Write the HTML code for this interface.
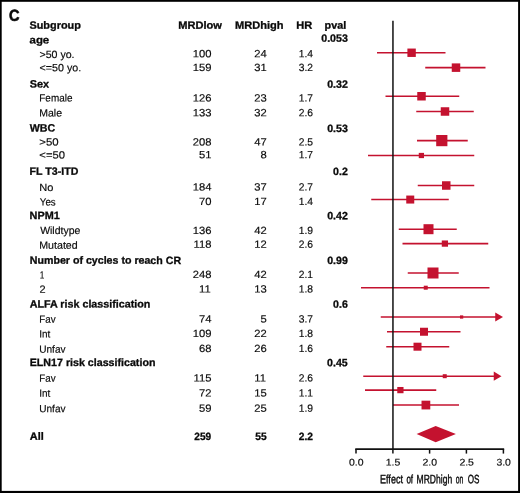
<!DOCTYPE html>
<html><head><meta charset="utf-8"><title>Forest plot</title>
<style>
html,body{margin:0;padding:0;background:#fff;}
body{width:520px;height:493px;overflow:hidden;}
svg{display:block;will-change:transform;font-family:"Liberation Sans",sans-serif;}
text{white-space:pre;}
</style></head><body>
<svg width="520" height="493" viewBox="0 0 520 493">
<rect x="0" y="0" width="520" height="493" fill="#000"/>
<rect x="1.7" y="1.8" width="516.4" height="489.1" fill="#fff"/>
<g>
<line x1="377" y1="52.75" x2="445.5" y2="52.75" stroke="#c4122f" stroke-width="1.6"/>
<rect x="407.40" y="48.55" width="8.4" height="8.4" fill="#c4122f"/>
<line x1="425.25" y1="67.65" x2="485.5" y2="67.65" stroke="#c4122f" stroke-width="1.6"/>
<rect x="451.75" y="63.40" width="8.5" height="8.5" fill="#c4122f"/>
<line x1="385.5" y1="96.25" x2="459.25" y2="96.25" stroke="#c4122f" stroke-width="1.6"/>
<rect x="417.25" y="92.00" width="8.5" height="8.5" fill="#c4122f"/>
<line x1="416.25" y1="111.50" x2="473.75" y2="111.50" stroke="#c4122f" stroke-width="1.6"/>
<rect x="440.75" y="107.25" width="8.5" height="8.5" fill="#c4122f"/>
<line x1="417" y1="140.60" x2="467.75" y2="140.60" stroke="#c4122f" stroke-width="1.6"/>
<rect x="436.20" y="135.00" width="11.2" height="11.2" fill="#c4122f"/>
<line x1="368" y1="155.50" x2="474.25" y2="155.50" stroke="#c4122f" stroke-width="1.6"/>
<rect x="418.77" y="152.88" width="5.25" height="5.25" fill="#c4122f"/>
<line x1="417.75" y1="185.50" x2="474.25" y2="185.50" stroke="#c4122f" stroke-width="1.6"/>
<rect x="442.00" y="181.25" width="8.5" height="8.5" fill="#c4122f"/>
<line x1="371.25" y1="199.55" x2="448.75" y2="199.55" stroke="#c4122f" stroke-width="1.6"/>
<rect x="406.25" y="195.55" width="8" height="8" fill="#c4122f"/>
<line x1="398.75" y1="229.20" x2="456.75" y2="229.20" stroke="#c4122f" stroke-width="1.6"/>
<rect x="423.50" y="224.20" width="10" height="10" fill="#c4122f"/>
<line x1="402.5" y1="243.60" x2="488.25" y2="243.60" stroke="#c4122f" stroke-width="1.6"/>
<rect x="441.77" y="240.47" width="6.25" height="6.25" fill="#c4122f"/>
<line x1="407.75" y1="273.00" x2="458.75" y2="273.00" stroke="#c4122f" stroke-width="1.6"/>
<rect x="427.50" y="267.50" width="11" height="11" fill="#c4122f"/>
<line x1="361" y1="287.70" x2="489.5" y2="287.70" stroke="#c4122f" stroke-width="1.6"/>
<rect x="423.75" y="285.70" width="4" height="4" fill="#c4122f"/>
<line x1="380.75" y1="317.00" x2="496.25" y2="317.00" stroke="#c4122f" stroke-width="1.6"/>
<polygon points="495.25,312.40 503,317.00 495.25,321.60" fill="#c4122f"/>
<rect x="459.98" y="315.38" width="3.25" height="3.25" fill="#c4122f"/>
<line x1="387" y1="331.75" x2="460.5" y2="331.75" stroke="#c4122f" stroke-width="1.6"/>
<rect x="420.00" y="327.75" width="8" height="8" fill="#c4122f"/>
<line x1="386.25" y1="346.70" x2="449.25" y2="346.70" stroke="#c4122f" stroke-width="1.6"/>
<rect x="413.50" y="342.70" width="8" height="8" fill="#c4122f"/>
<line x1="363.25" y1="376.20" x2="494.75" y2="376.20" stroke="#c4122f" stroke-width="1.6"/>
<polygon points="493.75,371.60 501.5,376.20 493.75,380.80" fill="#c4122f"/>
<rect x="442.75" y="374.20" width="4" height="4" fill="#c4122f"/>
<line x1="365" y1="390.10" x2="436.25" y2="390.10" stroke="#c4122f" stroke-width="1.6"/>
<rect x="397.27" y="386.98" width="6.25" height="6.25" fill="#c4122f"/>
<line x1="393" y1="405.05" x2="459" y2="405.05" stroke="#c4122f" stroke-width="1.6"/>
<rect x="421.52" y="400.68" width="8.75" height="8.75" fill="#c4122f"/>
<polygon points="416.6,434.1 435.7,426.0 455.9,434.1 435.7,442.2" fill="#c4122f"/>
<line x1="392.95" y1="20.75" x2="392.95" y2="449" stroke="#111" stroke-width="1.5"/>
<line x1="355.25" y1="449.1" x2="504.15" y2="449.1" stroke="#111" stroke-width="1.6"/>
<line x1="356" y1="449" x2="356" y2="453.6" stroke="#111" stroke-width="1.5"/>
<line x1="392.9" y1="449" x2="392.9" y2="453.6" stroke="#111" stroke-width="1.5"/>
<line x1="429.6" y1="449" x2="429.6" y2="453.6" stroke="#111" stroke-width="1.5"/>
<line x1="466.4" y1="449" x2="466.4" y2="453.6" stroke="#111" stroke-width="1.5"/>
<line x1="503.4" y1="449" x2="503.4" y2="453.6" stroke="#111" stroke-width="1.5"/>
</g>
<g>
<text transform="translate(8.92,20.85) rotate(0.06) scale(0.9122,1)" font-size="15.9" font-weight="700" fill="#0a0a0a" stroke="#0a0a0a" stroke-width="0.6">C</text>
<text transform="translate(29.42,28.75) rotate(0.06) scale(1.0296,1)" font-size="10.6" font-weight="700" fill="#0a0a0a" stroke="#0a0a0a" stroke-width="0.3">Subgroup</text>
<text transform="translate(178.28,28.75) rotate(0.06) scale(1.0455,1)" font-size="10.6" font-weight="700" fill="#0a0a0a" stroke="#0a0a0a" stroke-width="0.3">MRDlow</text>
<text transform="translate(235.03,28.75) rotate(0.06) scale(1.0464,1)" font-size="10.6" font-weight="700" fill="#0a0a0a" stroke="#0a0a0a" stroke-width="0.3">MRDhigh</text>
<text transform="translate(296.28,28.75) rotate(0.06) scale(1.0444,1)" font-size="10.6" font-weight="700" fill="#0a0a0a" stroke="#0a0a0a" stroke-width="0.3">HR</text>
<text transform="translate(324.55,28.75) rotate(0.06) scale(1.0216,1)" font-size="10.6" font-weight="700" fill="#0a0a0a" stroke="#0a0a0a" stroke-width="0.3">pval</text>
<text transform="translate(29.56,43.50) rotate(0.06) scale(1.0774,1)" font-size="10.6" font-weight="700" fill="#0a0a0a" stroke="#0a0a0a" stroke-width="0.3">age</text>
<text transform="translate(321.27,41.70) rotate(0.06) scale(1.0000,1)" font-size="10.6" font-weight="700" fill="#0a0a0a" stroke="#0a0a0a" stroke-width="0.3">0.053</text>
<text transform="translate(29.78,87.50) rotate(0.06) scale(1.0218,1)" font-size="10.6" font-weight="700" fill="#0a0a0a" stroke="#0a0a0a" stroke-width="0.3">Sex</text>
<text transform="translate(327.21,87.80) rotate(0.06) scale(1.0000,1)" font-size="10.6" font-weight="700" fill="#0a0a0a" stroke="#0a0a0a" stroke-width="0.3">0.32</text>
<text transform="translate(29.75,131.60) rotate(0.06) scale(1.0094,1)" font-size="10.6" font-weight="700" fill="#0a0a0a" stroke="#0a0a0a" stroke-width="0.3">WBC</text>
<text transform="translate(327.15,131.90) rotate(0.06) scale(1.0000,1)" font-size="10.6" font-weight="700" fill="#0a0a0a" stroke="#0a0a0a" stroke-width="0.3">0.53</text>
<text transform="translate(29.61,174.75) rotate(0.06) scale(1.0033,1)" font-size="10.6" font-weight="700" fill="#0a0a0a" stroke="#0a0a0a" stroke-width="0.3">FL T3-ITD</text>
<text transform="translate(333.09,175.05) rotate(0.06) scale(1.0000,1)" font-size="10.6" font-weight="700" fill="#0a0a0a" stroke="#0a0a0a" stroke-width="0.3">0.2</text>
<text transform="translate(29.59,219.00) rotate(0.06) scale(1.0260,1)" font-size="10.6" font-weight="700" fill="#0a0a0a" stroke="#0a0a0a" stroke-width="0.3">NPM1</text>
<text transform="translate(327.21,219.30) rotate(0.06) scale(1.0000,1)" font-size="10.6" font-weight="700" fill="#0a0a0a" stroke="#0a0a0a" stroke-width="0.3">0.42</text>
<text transform="translate(29.81,263.75) rotate(0.06) scale(1.0041,1)" font-size="10.6" font-weight="700" fill="#0a0a0a" stroke="#0a0a0a" stroke-width="0.3">Number of cycles to reach CR</text>
<text transform="translate(327.15,264.05) rotate(0.06) scale(1.0000,1)" font-size="10.6" font-weight="700" fill="#0a0a0a" stroke="#0a0a0a" stroke-width="0.3">0.99</text>
<text transform="translate(29.73,307.50) rotate(0.06) scale(1.0144,1)" font-size="10.6" font-weight="700" fill="#0a0a0a" stroke="#0a0a0a" stroke-width="0.3">ALFA risk classification</text>
<text transform="translate(333.04,307.80) rotate(0.06) scale(1.0000,1)" font-size="10.6" font-weight="700" fill="#0a0a0a" stroke="#0a0a0a" stroke-width="0.3">0.6</text>
<text transform="translate(29.71,366.00) rotate(0.06) scale(1.0081,1)" font-size="10.6" font-weight="700" fill="#0a0a0a" stroke="#0a0a0a" stroke-width="0.3">ELN17 risk classification</text>
<text transform="translate(327.05,366.30) rotate(0.06) scale(1.0000,1)" font-size="10.6" font-weight="700" fill="#0a0a0a" stroke="#0a0a0a" stroke-width="0.3">0.45</text>
<text transform="translate(39.47,58.00) rotate(0.06) scale(1.0111,1)" font-size="10.5" font-weight="400" fill="#0a0a0a" stroke="#0a0a0a" stroke-width="0.17">&gt;50 yo.</text>
<text transform="translate(192.74,57.30) rotate(0.06) scale(1.0700,1)" font-size="10.5" font-weight="400" fill="#0a0a0a" stroke="#0a0a0a" stroke-width="0.17">100</text>
<text transform="translate(254.22,57.30) rotate(0.06) scale(1.0700,1)" font-size="10.5" font-weight="400" fill="#0a0a0a" stroke="#0a0a0a" stroke-width="0.17">24</text>
<text transform="translate(298.76,57.30) rotate(0.06) scale(0.9800,1)" font-size="10.5" font-weight="400" fill="#0a0a0a" stroke="#0a0a0a" stroke-width="0.17">1.4</text>
<text transform="translate(39.57,71.15) rotate(0.06) scale(1.0184,1)" font-size="10.5" font-weight="400" fill="#0a0a0a" stroke="#0a0a0a" stroke-width="0.17">&lt;=50 yo.</text>
<text transform="translate(192.74,70.90) rotate(0.06) scale(1.0700,1)" font-size="10.5" font-weight="400" fill="#0a0a0a" stroke="#0a0a0a" stroke-width="0.17">159</text>
<text transform="translate(254.22,70.90) rotate(0.06) scale(1.0700,1)" font-size="10.5" font-weight="400" fill="#0a0a0a" stroke="#0a0a0a" stroke-width="0.17">31</text>
<text transform="translate(298.76,70.90) rotate(0.06) scale(0.9800,1)" font-size="10.5" font-weight="400" fill="#0a0a0a" stroke="#0a0a0a" stroke-width="0.17">3.2</text>
<text transform="translate(39.30,101.55) rotate(0.06) scale(0.9464,1)" font-size="10.5" font-weight="400" fill="#0a0a0a" stroke="#0a0a0a" stroke-width="0.17">Female</text>
<text transform="translate(192.74,101.50) rotate(0.06) scale(1.0700,1)" font-size="10.5" font-weight="400" fill="#0a0a0a" stroke="#0a0a0a" stroke-width="0.17">126</text>
<text transform="translate(254.22,101.50) rotate(0.06) scale(1.0700,1)" font-size="10.5" font-weight="400" fill="#0a0a0a" stroke="#0a0a0a" stroke-width="0.17">23</text>
<text transform="translate(298.76,101.50) rotate(0.06) scale(0.9800,1)" font-size="10.5" font-weight="400" fill="#0a0a0a" stroke="#0a0a0a" stroke-width="0.17">1.7</text>
<text transform="translate(39.26,116.60) rotate(0.06) scale(0.9991,1)" font-size="10.5" font-weight="400" fill="#0a0a0a" stroke="#0a0a0a" stroke-width="0.17">Male</text>
<text transform="translate(192.74,116.20) rotate(0.06) scale(1.0700,1)" font-size="10.5" font-weight="400" fill="#0a0a0a" stroke="#0a0a0a" stroke-width="0.17">133</text>
<text transform="translate(254.22,116.20) rotate(0.06) scale(1.0700,1)" font-size="10.5" font-weight="400" fill="#0a0a0a" stroke="#0a0a0a" stroke-width="0.17">32</text>
<text transform="translate(298.76,116.20) rotate(0.06) scale(0.9800,1)" font-size="10.5" font-weight="400" fill="#0a0a0a" stroke="#0a0a0a" stroke-width="0.17">2.6</text>
<text transform="translate(39.33,145.60) rotate(0.06) scale(1.0884,1)" font-size="10.5" font-weight="400" fill="#0a0a0a" stroke="#0a0a0a" stroke-width="0.17">&gt;50</text>
<text transform="translate(192.74,145.60) rotate(0.06) scale(1.0700,1)" font-size="10.5" font-weight="400" fill="#0a0a0a" stroke="#0a0a0a" stroke-width="0.17">208</text>
<text transform="translate(254.22,145.60) rotate(0.06) scale(1.0700,1)" font-size="10.5" font-weight="400" fill="#0a0a0a" stroke="#0a0a0a" stroke-width="0.17">47</text>
<text transform="translate(298.76,145.60) rotate(0.06) scale(0.9800,1)" font-size="10.5" font-weight="400" fill="#0a0a0a" stroke="#0a0a0a" stroke-width="0.17">2.5</text>
<text transform="translate(39.34,158.55) rotate(0.06) scale(1.0717,1)" font-size="10.5" font-weight="400" fill="#0a0a0a" stroke="#0a0a0a" stroke-width="0.17">&lt;=50</text>
<text transform="translate(198.97,158.20) rotate(0.06) scale(1.0700,1)" font-size="10.5" font-weight="400" fill="#0a0a0a" stroke="#0a0a0a" stroke-width="0.17">51</text>
<text transform="translate(260.46,158.20) rotate(0.06) scale(1.0700,1)" font-size="10.5" font-weight="400" fill="#0a0a0a" stroke="#0a0a0a" stroke-width="0.17">8</text>
<text transform="translate(298.76,158.20) rotate(0.06) scale(0.9800,1)" font-size="10.5" font-weight="400" fill="#0a0a0a" stroke="#0a0a0a" stroke-width="0.17">1.7</text>
<text transform="translate(39.21,191.10) rotate(0.06) scale(1.0555,1)" font-size="10.5" font-weight="400" fill="#0a0a0a" stroke="#0a0a0a" stroke-width="0.17">No</text>
<text transform="translate(192.74,190.60) rotate(0.06) scale(1.0700,1)" font-size="10.5" font-weight="400" fill="#0a0a0a" stroke="#0a0a0a" stroke-width="0.17">184</text>
<text transform="translate(254.22,190.60) rotate(0.06) scale(1.0700,1)" font-size="10.5" font-weight="400" fill="#0a0a0a" stroke="#0a0a0a" stroke-width="0.17">37</text>
<text transform="translate(298.76,190.60) rotate(0.06) scale(0.9800,1)" font-size="10.5" font-weight="400" fill="#0a0a0a" stroke="#0a0a0a" stroke-width="0.17">2.7</text>
<text transform="translate(39.75,205.40) rotate(0.06) scale(0.9342,1)" font-size="10.5" font-weight="400" fill="#0a0a0a" stroke="#0a0a0a" stroke-width="0.17">Yes</text>
<text transform="translate(198.97,205.10) rotate(0.06) scale(1.0700,1)" font-size="10.5" font-weight="400" fill="#0a0a0a" stroke="#0a0a0a" stroke-width="0.17">70</text>
<text transform="translate(254.22,205.10) rotate(0.06) scale(1.0700,1)" font-size="10.5" font-weight="400" fill="#0a0a0a" stroke="#0a0a0a" stroke-width="0.17">17</text>
<text transform="translate(298.76,205.10) rotate(0.06) scale(0.9800,1)" font-size="10.5" font-weight="400" fill="#0a0a0a" stroke="#0a0a0a" stroke-width="0.17">1.4</text>
<text transform="translate(40.15,234.00) rotate(0.06) scale(0.9989,1)" font-size="10.5" font-weight="400" fill="#0a0a0a" stroke="#0a0a0a" stroke-width="0.17">Wildtype</text>
<text transform="translate(192.74,234.10) rotate(0.06) scale(1.0700,1)" font-size="10.5" font-weight="400" fill="#0a0a0a" stroke="#0a0a0a" stroke-width="0.17">136</text>
<text transform="translate(254.22,234.10) rotate(0.06) scale(1.0700,1)" font-size="10.5" font-weight="400" fill="#0a0a0a" stroke="#0a0a0a" stroke-width="0.17">42</text>
<text transform="translate(298.76,234.10) rotate(0.06) scale(0.9800,1)" font-size="10.5" font-weight="400" fill="#0a0a0a" stroke="#0a0a0a" stroke-width="0.17">1.9</text>
<text transform="translate(39.25,248.65) rotate(0.06) scale(1.0142,1)" font-size="10.5" font-weight="400" fill="#0a0a0a" stroke="#0a0a0a" stroke-width="0.17">Mutated</text>
<text transform="translate(193.52,247.85) rotate(0.06) scale(1.0700,1)" font-size="10.5" font-weight="400" fill="#0a0a0a" stroke="#0a0a0a" stroke-width="0.17">118</text>
<text transform="translate(254.22,247.85) rotate(0.06) scale(1.0700,1)" font-size="10.5" font-weight="400" fill="#0a0a0a" stroke="#0a0a0a" stroke-width="0.17">12</text>
<text transform="translate(298.76,247.85) rotate(0.06) scale(0.9800,1)" font-size="10.5" font-weight="400" fill="#0a0a0a" stroke="#0a0a0a" stroke-width="0.17">2.6</text>
<text transform="translate(39.68,278.40) rotate(0.06) scale(0.7882,1)" font-size="10.5" font-weight="400" fill="#0a0a0a" stroke="#0a0a0a" stroke-width="0.17">1</text>
<text transform="translate(192.74,278.10) rotate(0.06) scale(1.0700,1)" font-size="10.5" font-weight="400" fill="#0a0a0a" stroke="#0a0a0a" stroke-width="0.17">248</text>
<text transform="translate(254.22,278.10) rotate(0.06) scale(1.0700,1)" font-size="10.5" font-weight="400" fill="#0a0a0a" stroke="#0a0a0a" stroke-width="0.17">42</text>
<text transform="translate(298.76,278.10) rotate(0.06) scale(0.9800,1)" font-size="10.5" font-weight="400" fill="#0a0a0a" stroke="#0a0a0a" stroke-width="0.17">2.1</text>
<text transform="translate(39.45,292.75) rotate(0.06) scale(1.0466,1)" font-size="10.5" font-weight="400" fill="#0a0a0a" stroke="#0a0a0a" stroke-width="0.17">2</text>
<text transform="translate(198.97,292.60) rotate(0.06) scale(1.0700,1)" font-size="10.5" font-weight="400" fill="#0a0a0a" stroke="#0a0a0a" stroke-width="0.17">11</text>
<text transform="translate(254.22,292.60) rotate(0.06) scale(1.0700,1)" font-size="10.5" font-weight="400" fill="#0a0a0a" stroke="#0a0a0a" stroke-width="0.17">13</text>
<text transform="translate(298.76,292.60) rotate(0.06) scale(0.9800,1)" font-size="10.5" font-weight="400" fill="#0a0a0a" stroke="#0a0a0a" stroke-width="0.17">1.8</text>
<text transform="translate(39.22,322.70) rotate(0.06) scale(0.9343,1)" font-size="10.5" font-weight="400" fill="#0a0a0a" stroke="#0a0a0a" stroke-width="0.17">Fav</text>
<text transform="translate(198.97,322.60) rotate(0.06) scale(1.0700,1)" font-size="10.5" font-weight="400" fill="#0a0a0a" stroke="#0a0a0a" stroke-width="0.17">74</text>
<text transform="translate(260.46,322.60) rotate(0.06) scale(1.0700,1)" font-size="10.5" font-weight="400" fill="#0a0a0a" stroke="#0a0a0a" stroke-width="0.17">5</text>
<text transform="translate(298.76,322.60) rotate(0.06) scale(0.9800,1)" font-size="10.5" font-weight="400" fill="#0a0a0a" stroke="#0a0a0a" stroke-width="0.17">3.7</text>
<text transform="translate(39.20,337.60) rotate(0.06) scale(0.9477,1)" font-size="10.5" font-weight="400" fill="#0a0a0a" stroke="#0a0a0a" stroke-width="0.17">Int</text>
<text transform="translate(192.74,337.10) rotate(0.06) scale(1.0700,1)" font-size="10.5" font-weight="400" fill="#0a0a0a" stroke="#0a0a0a" stroke-width="0.17">109</text>
<text transform="translate(254.22,337.10) rotate(0.06) scale(1.0700,1)" font-size="10.5" font-weight="400" fill="#0a0a0a" stroke="#0a0a0a" stroke-width="0.17">22</text>
<text transform="translate(298.76,337.10) rotate(0.06) scale(0.9800,1)" font-size="10.5" font-weight="400" fill="#0a0a0a" stroke="#0a0a0a" stroke-width="0.17">1.8</text>
<text transform="translate(39.24,352.80) rotate(0.06) scale(0.9599,1)" font-size="10.5" font-weight="400" fill="#0a0a0a" stroke="#0a0a0a" stroke-width="0.17">Unfav</text>
<text transform="translate(198.97,352.10) rotate(0.06) scale(1.0700,1)" font-size="10.5" font-weight="400" fill="#0a0a0a" stroke="#0a0a0a" stroke-width="0.17">68</text>
<text transform="translate(254.22,352.10) rotate(0.06) scale(1.0700,1)" font-size="10.5" font-weight="400" fill="#0a0a0a" stroke="#0a0a0a" stroke-width="0.17">26</text>
<text transform="translate(298.76,352.10) rotate(0.06) scale(0.9800,1)" font-size="10.5" font-weight="400" fill="#0a0a0a" stroke="#0a0a0a" stroke-width="0.17">1.6</text>
<text transform="translate(39.22,381.75) rotate(0.06) scale(0.9343,1)" font-size="10.5" font-weight="400" fill="#0a0a0a" stroke="#0a0a0a" stroke-width="0.17">Fav</text>
<text transform="translate(193.52,381.60) rotate(0.06) scale(1.0700,1)" font-size="10.5" font-weight="400" fill="#0a0a0a" stroke="#0a0a0a" stroke-width="0.17">115</text>
<text transform="translate(254.22,381.60) rotate(0.06) scale(1.0700,1)" font-size="10.5" font-weight="400" fill="#0a0a0a" stroke="#0a0a0a" stroke-width="0.17">11</text>
<text transform="translate(298.76,381.60) rotate(0.06) scale(0.9800,1)" font-size="10.5" font-weight="400" fill="#0a0a0a" stroke="#0a0a0a" stroke-width="0.17">2.6</text>
<text transform="translate(39.20,396.75) rotate(0.06) scale(0.9477,1)" font-size="10.5" font-weight="400" fill="#0a0a0a" stroke="#0a0a0a" stroke-width="0.17">Int</text>
<text transform="translate(198.97,396.60) rotate(0.06) scale(1.0700,1)" font-size="10.5" font-weight="400" fill="#0a0a0a" stroke="#0a0a0a" stroke-width="0.17">72</text>
<text transform="translate(254.22,396.60) rotate(0.06) scale(1.0700,1)" font-size="10.5" font-weight="400" fill="#0a0a0a" stroke="#0a0a0a" stroke-width="0.17">15</text>
<text transform="translate(298.76,396.60) rotate(0.06) scale(0.9800,1)" font-size="10.5" font-weight="400" fill="#0a0a0a" stroke="#0a0a0a" stroke-width="0.17">1.1</text>
<text transform="translate(39.24,412.25) rotate(0.06) scale(0.9599,1)" font-size="10.5" font-weight="400" fill="#0a0a0a" stroke="#0a0a0a" stroke-width="0.17">Unfav</text>
<text transform="translate(198.97,411.85) rotate(0.06) scale(1.0700,1)" font-size="10.5" font-weight="400" fill="#0a0a0a" stroke="#0a0a0a" stroke-width="0.17">59</text>
<text transform="translate(254.22,411.85) rotate(0.06) scale(1.0700,1)" font-size="10.5" font-weight="400" fill="#0a0a0a" stroke="#0a0a0a" stroke-width="0.17">25</text>
<text transform="translate(298.76,411.85) rotate(0.06) scale(0.9800,1)" font-size="10.5" font-weight="400" fill="#0a0a0a" stroke="#0a0a0a" stroke-width="0.17">1.9</text>
<text transform="translate(29.73,439.75) rotate(0.06) scale(1.0349,1)" font-size="10.6" font-weight="700" fill="#0a0a0a" stroke="#0a0a0a" stroke-width="0.3">All</text>
<text transform="translate(194.35,440.00) rotate(0.06) scale(0.9550,1)" font-size="10.6" font-weight="700" fill="#0a0a0a" stroke="#0a0a0a" stroke-width="0.3">259</text>
<text transform="translate(255.25,440.00) rotate(0.06) scale(0.9650,1)" font-size="10.6" font-weight="700" fill="#0a0a0a" stroke="#0a0a0a" stroke-width="0.3">55</text>
<text transform="translate(298.72,440.00) rotate(0.06) scale(0.9700,1)" font-size="10.6" font-weight="700" fill="#0a0a0a" stroke="#0a0a0a" stroke-width="0.3">2.2</text>
<text transform="translate(349.00,465.40) rotate(0.06) scale(1.0900,1)" font-size="9.6" font-weight="400" fill="#0a0a0a" stroke="#0a0a0a" stroke-width="0.17">0.0</text>
<text transform="translate(385.74,465.40) rotate(0.06) scale(1.0900,1)" font-size="9.6" font-weight="400" fill="#0a0a0a" stroke="#0a0a0a" stroke-width="0.17">1.5</text>
<text transform="translate(422.55,465.40) rotate(0.06) scale(1.0900,1)" font-size="9.6" font-weight="400" fill="#0a0a0a" stroke="#0a0a0a" stroke-width="0.17">2.0</text>
<text transform="translate(459.38,465.40) rotate(0.06) scale(1.0900,1)" font-size="9.6" font-weight="400" fill="#0a0a0a" stroke="#0a0a0a" stroke-width="0.17">2.5</text>
<text transform="translate(496.40,465.40) rotate(0.06) scale(1.0900,1)" font-size="9.6" font-weight="400" fill="#0a0a0a" stroke="#0a0a0a" stroke-width="0.17">3.0</text>
<text transform="translate(379.98,483.30) rotate(0.06) scale(0.7489,1)" font-size="12.1" font-weight="400" fill="#0a0a0a" stroke="#0a0a0a" stroke-width="0.4">Effect</text>
<text transform="translate(406.38,483.30) rotate(0.06) scale(0.6653,1)" font-size="12.1" font-weight="400" fill="#0a0a0a" stroke="#0a0a0a" stroke-width="0.4">of</text>
<text transform="translate(416.62,483.30) rotate(0.06) scale(0.7052,1)" font-size="12.1" font-weight="400" fill="#0a0a0a" stroke="#0a0a0a" stroke-width="0.4">MRDhigh</text>
<text transform="translate(455.73,483.30) rotate(0.06) scale(0.5592,1)" font-size="12.1" font-weight="400" fill="#0a0a0a" stroke="#0a0a0a" stroke-width="0.4">on</text>
<text transform="translate(467.73,483.30) rotate(0.06) scale(0.6709,1)" font-size="12.1" font-weight="400" fill="#0a0a0a" stroke="#0a0a0a" stroke-width="0.4">OS</text>
</g>
</svg>
</body></html>
